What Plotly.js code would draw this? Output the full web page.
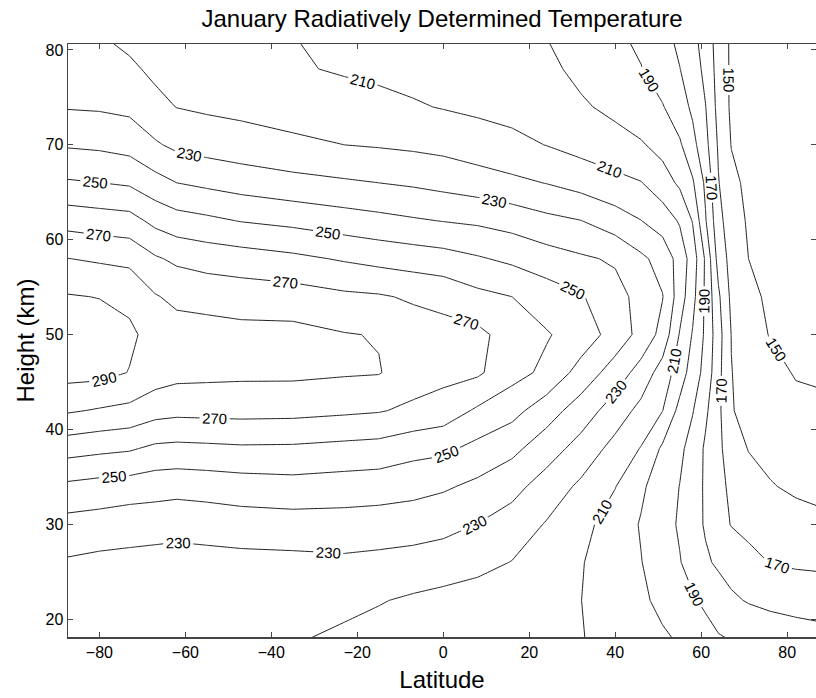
<!DOCTYPE html>
<html><head><meta charset="utf-8">
<script src="https://cdn.plot.ly/plotly-3.0.1.min.js"></script>
<style>html,body{margin:0;padding:0;background:#fff}#chart{width:816px;height:698px}</style>
</head><body><div id="chart"></div>
<script>
// Latitude columns (deg) and height rows (km)
const lat = [-88, -80, -73, -67, -62, -55, -47, -35, -23, -15, -7, 0, 8, 16, 24, 32, 40, 46, 51, 55, 58, 61, 64, 67, 71, 76, 82, 88];
const height = [18, 22, 26, 30, 34, 38, 42, 46, 50, 54, 58, 62, 66, 70, 74, 78, 81];

// Temperature profiles (K), one per latitude, bottom to top (estimated from the figure)
const T_m88 = [222, 225, 229, 236.7, 248, 264.2, 281.3, 293.5, 296, 290.8, 280.3, 266.4, 251.2, 239.1, 229.4, 226.5, 225];
const T_m80 = [222, 225, 227.6, 235.7, 246.3, 262.4, 279.1, 293, 295, 289.7, 278.7, 264.8, 250.1, 238.2, 228.9, 223.5, 221];
const T_m73 = [221, 224, 227.5, 233.9, 245.5, 261.1, 277.5, 289.7, 291.5, 288, 277.4, 263.7, 248.7, 236.4, 227.7, 221.7, 218];
const T_m67 = [221, 224, 226.5, 234, 244.1, 258, 273.8, 285, 287, 280.7, 271.2, 257.3, 243.6, 231.2, 222.7, 218, 216];
const T_m62 = [221, 224, 226.5, 233.1, 243.5, 257.4, 272.7, 283, 284, 277.8, 268.1, 254, 240, 227.8, 219.8, 216, 214];
const T_m55 = [221, 224, 226.7, 234, 244.2, 257.9, 273, 282.5, 284, 276.4, 266, 252.1, 237.9, 226, 218.5, 215, 213];
const T_m47 = [221, 224, 227, 235.2, 245.3, 258.6, 273.3, 282, 283, 275.4, 264.6, 249.6, 235.7, 224.3, 217.5, 214, 212];
const T_m35 = [221, 224, 227.4, 235.8, 246.3, 258.4, 273, 282, 283, 274.5, 262.2, 247.4, 233.1, 222.1, 215.5, 211, 210.3];
const T_m23 = [218, 222.7, 228.2, 235.8, 245.3, 257.1, 271.7, 281, 280.5, 271.9, 259, 244.6, 231.25, 220, 214, 209, 207.5];
const T_m15 = [216.5, 220.6, 227.4, 235.2, 244.7, 256.3, 270.7, 280.5, 279.5, 271, 256.9, 242.9, 230, 219.2, 212.6, 208, 206.5];
const T_m07 = [215, 218.6, 226.3, 234.5, 243.2, 253.3, 268, 275, 275, 268.7, 255.3, 241.1, 228.6, 218.2, 210.9, 207, 205.5];
const T_p00 = [214, 217, 225.2, 232.9, 241.3, 252.1, 265.5, 273, 273.5, 267, 253.9, 239.7, 226.9, 217.1, 209.5, 206, 204.5];
const T_p08 = [213, 215.8, 222.7, 229.8, 237.8, 247.1, 258.5, 271.5, 272.5, 262.6, 251, 238.4, 224.8, 214.5, 208.2, 205.5, 204];
const T_p16 = [212, 213.5, 219.7, 225.5, 233.2, 242.5, 253.3, 263.5, 265.5, 260, 248, 236.1, 222.2, 212.4, 207, 204, 202];
const T_p24 = [211.2, 211.9, 215.1, 219.3, 225.6, 234.6, 244.5, 257.8, 260.8, 255.2, 244.4, 232.6, 219.7, 209.8, 203.3, 202, 200.2];
const T_p32 = [210.4, 210.1, 210.6, 213, 218.2, 226.3, 235.3, 246.2, 255.7, 250.9, 241.4, 230.2, 216.3, 206.6, 201.2, 197.8, 196.1];
const T_p40 = [207, 205.3, 204.8, 205.5, 210.3, 216.7, 225.2, 235.4, 245.8, 243.4, 238.8, 224.6, 212.9, 203.4, 197.8, 193.5, 192.1];
const T_p46 = [203.8, 201.6, 200.3, 199.3, 201.6, 209.5, 217.2, 226.1, 236.9, 236.9, 231.9, 220.2, 210.4, 201, 193.9, 190.4, 188.1];
const T_p51 = [201.2, 197.8, 194.9, 193.7, 195, 198.4, 210.2, 215.6, 226.7, 230.4, 226.5, 215.3, 204.5, 196.7, 190.6, 185, 183];
const T_p55 = [199.1, 193.4, 190.5, 188.9, 189.8, 192.2, 196.9, 205.3, 209.3, 215, 216, 209, 198.3, 191.3, 184.3, 180.2, 178.2];
const T_p58 = [197.5, 191.2, 186.1, 183.9, 184.5, 186, 190.6, 195.3, 199.3, 203.2, 205.5, 199.5, 191.2, 183.1, 178.2, 175.6, 172.9];
const T_p61 = [193.7, 188.1, 181.4, 179, 178.7, 178.6, 181.8, 186.8, 188.2, 188.3, 188.6, 180.8, 178.1, 173, 170.3, 167.1, 165.8];
const T_p64 = [190.8, 184.8, 178.5, 173.7, 172.3, 171.6, 172.3, 172.9, 174, 171.7, 166.2, 163.3, 160.5, 158.8, 156.8, 156.3, 155.8];
const T_p67 = [189.5, 181.5, 176.3, 169.6, 168.4, 166.3, 160.6, 160.2, 159.8, 157.9, 156.6, 154.2, 152.3, 149.7, 148.5, 148.5, 148.5];
const T_p71 = [187.5, 179.3, 173.3, 167, 165, 159.5, 157, 157, 155, 152.2, 150, 149, 148, 147, 146.5, 146.5, 146.5];
const T_p76 = [185.5, 177.8, 169.7, 165, 160.6, 157.5, 155, 153.5, 149.5, 148.5, 148, 147, 146, 145.5, 145.5, 145.5, 145.5];
const T_p82 = [184, 176.8, 168.5, 163.5, 158.5, 156, 153, 149.2, 148, 147.5, 147, 146.5, 145.5, 145, 145, 145, 145];
const T_p88 = [183, 176, 168, 162, 157.5, 155, 152, 148.5, 147.5, 147, 146.5, 146, 145.5, 145, 145, 145, 145];

const profiles = [T_m88, T_m80, T_m73, T_m67, T_m62, T_m55, T_m47, T_m35, T_m23, T_m15, T_m07, T_p00,
  T_p08, T_p16, T_p24, T_p32, T_p40, T_p46, T_p51, T_p55, T_p58, T_p61, T_p64, T_p67, T_p71, T_p76, T_p82, T_p88];

// Plotly wants z[row=height][col=lat]
const z = height.map((h, i) => profiles.map(p => p[i]));

const xTicks = [-80, -60, -40, -20, 0, 20, 40, 60, 80];
const yTicks = [20, 30, 40, 50, 60, 70, 80];

const FONT = 'Liberation Sans, Arial, sans-serif';
const lineStyle = {color: '#222', width: 1, smoothing: 0};

// Odd levels (160, 180, ... 280): plain lines
const unlabeled = {
  type: 'contour', x: lat, y: height, z: z,
  contours: {coloring: 'none', start: 160, end: 280, size: 20, showlabels: false},
  line: lineStyle, showscale: false, hoverinfo: 'skip'
};
// Labelled levels 150, 170, ... 290. The level list is started far below the data
// (those extra levels have no lines) so that Plotly spaces labels more densely.
const labeled = {
  type: 'contour', x: lat, y: height, z: z,
  contours: {coloring: 'none', start: -1230, end: 290, size: 20, showlabels: true,
    labelfont: {size: 15, color: '#000', family: FONT}},
  line: lineStyle, showscale: false, hoverinfo: 'skip'
};

const axisCommon = {
  showgrid: false, zeroline: false, showline: true, linecolor: '#444', linewidth: 1.5,
  mirror: 'ticks', ticks: 'inside', ticklen: 5, tickcolor: '#444', tickwidth: 1,
  tickfont: {size: 16, color: '#000', family: FONT}
};

const layout = {
  width: 816, height: 698,
  margin: {l: 68, r: 0, t: 44, b: 61, pad: 0},
  paper_bgcolor: '#fff', plot_bgcolor: '#fff',
  showlegend: false,
  title: {text: 'January Radiatively Determined Temperature', font: {size: 24, color: '#000', family: FONT},
    x: 0.5, xref: 'paper', xanchor: 'center', y: 1 - 19/698, yref: 'container', yanchor: 'middle'},
  xaxis: Object.assign({}, axisCommon, {range: [-87.3, 86.7], tickvals: xTicks,
    title: {text: 'Latitude', font: {size: 24, color: '#000', family: FONT}, standoff: 11}}),
  yaxis: Object.assign({}, axisCommon, {range: [18.14, 80.63], tickvals: yTicks,
    title: {text: 'Height (km)', font: {size: 24, color: '#000', family: FONT}, standoff: 4}})
};

Plotly.newPlot('chart', [unlabeled, labeled], layout, {displayModeBar: false, staticPlot: true});
</script></body></html>
